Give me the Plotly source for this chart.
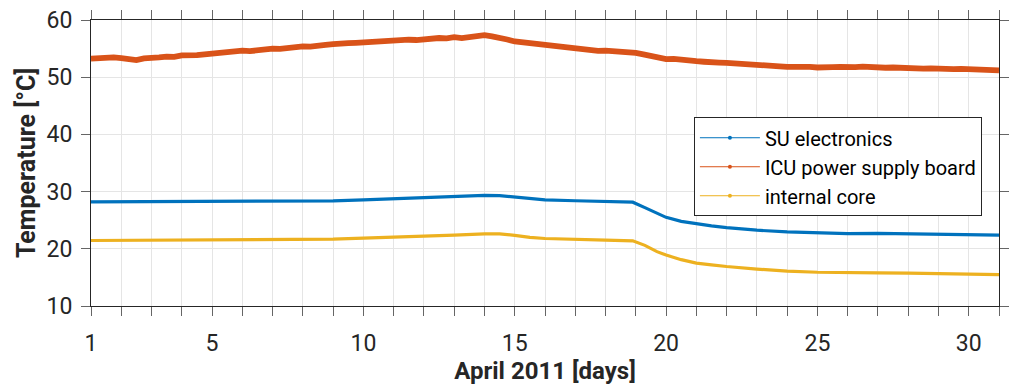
import plotly.graph_objects as go

# ICU power supply board, sampled every quarter day (1 April .. 31 April)
icu_days = [1 + 0.25 * i for i in range(121)]
icu_temp = [
    53.25, 53.40, 53.30, 53.45, 53.35, 53.20, 53.00, 53.30, 53.50, 53.45,
    53.60, 53.55, 53.80, 53.70, 53.85, 54.00, 54.15, 54.10, 54.35, 54.40,
    54.65, 54.55, 54.75, 54.80, 55.00, 54.95, 55.15, 55.25, 55.40, 55.35,
    55.60, 55.65, 55.80, 55.75, 55.95, 56.00, 56.10, 56.05, 56.25, 56.20,
    56.40, 56.35, 56.55, 56.50, 56.70, 56.65, 56.85, 56.80, 57.00, 56.85,
    57.10, 57.20, 57.35, 57.15, 56.95, 56.60, 56.25, 56.10, 55.95, 55.80,
    55.60, 55.45, 55.15, 54.95, 54.80, 54.70, 54.75, 54.60, 54.65, 54.55,
    54.60, 54.45, 54.25, 54.00, 53.70, 53.40, 53.15, 53.20, 53.00, 52.85,
    52.80, 52.70, 52.75, 52.55, 52.50, 52.45, 52.30, 52.25, 52.10, 52.05,
    51.95, 51.90, 51.80, 51.85, 51.75, 51.80, 51.70, 51.85, 51.75, 51.80,
    51.70, 51.75, 51.85, 51.70, 51.75, 51.65, 51.70, 51.60, 51.55, 51.65,
    51.50, 51.55, 51.45, 51.50, 51.40, 51.45, 51.40, 51.30, 51.35, 51.25,
    51.20,
]

# SU electronics and internal core
days = [1, 3, 5, 7, 9, 10, 11, 12, 13, 14, 14.5, 15, 15.5, 16, 17, 18, 18.9,
        19.3, 19.7, 20, 20.5, 21, 21.5, 22, 23, 24, 25, 26, 27, 28, 29, 30, 31]
su_temp = [28.20, 28.22, 28.26, 28.30, 28.38, 28.55, 28.75, 28.92, 29.12, 29.35,
           29.30, 29.05, 28.75, 28.55, 28.40, 28.30, 28.15,
           27.20, 26.20, 25.50, 24.80, 24.35, 24.00, 23.70, 23.25, 22.95,
           22.75, 22.65, 22.70, 22.60, 22.55, 22.45, 22.40]
core_temp = [21.45, 21.50, 21.55, 21.60, 21.70, 21.85, 22.00, 22.20, 22.40, 22.60,
             22.60, 22.35, 22.00, 21.80, 21.60, 21.50, 21.40,
             20.60, 19.50, 18.90, 18.10, 17.50, 17.20, 16.90, 16.45, 16.10,
             15.90, 15.80, 15.80, 15.75, 15.65, 15.55, 15.50]

series_names = ["SU electronics", "ICU power supply board", "internal core"]
colors = ["#0072BD", "#D95319", "#EDB120"]

x_tickvals = list(range(1, 32))
x_ticktext = [str(d) if d in (1, 5, 10, 15, 20, 25, 30) else "" for d in x_tickvals]
y_tickvals = [10, 20, 30, 40, 50, 60]

FONT = "Roboto"
TXT = "#262626"

fig = go.Figure()

data = [(days, su_temp, 3.2), (icu_days, icu_temp, 5.8), (days, core_temp, 3.2)]
for (xs, ys, w), name, c in zip(data, series_names, colors):
    fig.add_trace(go.Scatter(x=xs, y=ys, mode="lines", name=name,
                             line=dict(color=c, width=w), showlegend=False))

# thin legend keys with a dot marker
for name, c in zip(series_names, colors):
    fig.add_trace(go.Scatter(x=[None], y=[None], mode="lines+markers", name=name,
                             line=dict(color=c, width=1),
                             marker=dict(color=c, size=4), showlegend=True))

fig.update_layout(
    width=1010, height=389,
    margin=dict(l=91, r=1, t=20, b=83),
    paper_bgcolor="white", plot_bgcolor="white",
    font=dict(family=FONT, color=TXT, size=22),
    showlegend=True,
    legend=dict(x=0.664, y=0.66, xanchor="left", yanchor="top",
                bgcolor="white", bordercolor="#262626", borderwidth=1,
                font=dict(family=FONT, size=20, color="#000000"),
                tracegroupgap=0, itemwidth=60),
)

fig.update_xaxes(
    range=[1, 31], tickmode="array", tickvals=x_tickvals, ticktext=x_ticktext,
    ticks="outside", ticklen=9, tickcolor="#666666", tickwidth=1,
    ticklabelstandoff=7,
    showline=True, linecolor=TXT, linewidth=1, mirror="ticks",
    showgrid=True, gridcolor="#e5e5e5", gridwidth=1, zeroline=False,
    tickfont=dict(family=FONT, size=23, color=TXT),
    title=dict(text="<b>April 2011 [days]</b>", standoff=6,
               font=dict(family=FONT, size=24, color=TXT)),
)
fig.update_yaxes(
    range=[10, 60], tickmode="array", tickvals=y_tickvals,
    ticks="outside", ticklen=9, tickcolor="#666666", tickwidth=1,
    ticklabelstandoff=4,
    showline=True, linecolor=TXT, linewidth=1, mirror="ticks",
    showgrid=True, gridcolor="#e5e5e5", gridwidth=1, zeroline=False,
    tickfont=dict(family=FONT, size=23, color=TXT),
    title=dict(text="<b>Temperature [°C]</b>", standoff=3,
               font=dict(family=FONT, size=25, color=TXT)),
)

fig.write_html("out.html")
